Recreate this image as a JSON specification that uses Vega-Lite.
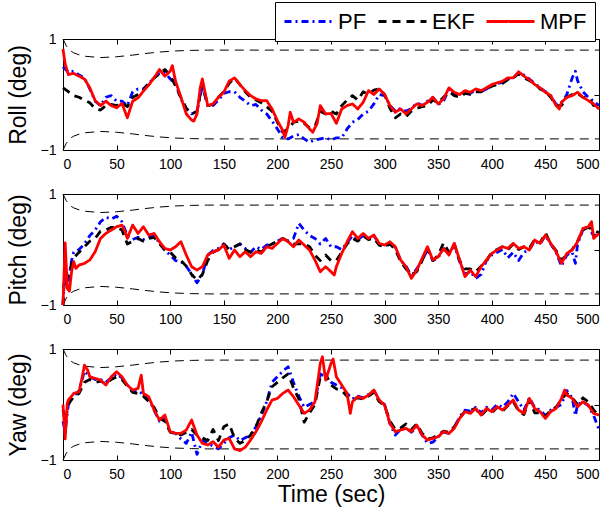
{
"$schema": "https://vega.github.io/schema/vega-lite/v6.json",
"padding": {"left": 6, "top": 1, "right": 5, "bottom": 5},
"spacing": 14,
"datasets": {
"env": [
{"t":0,"hi":1.0,"lo":-1.0},{"t":3,"hi":0.88,"lo":-0.88},{"t":6,"hi":0.8,"lo":-0.8},{"t":10,"hi":0.75,"lo":-0.75},{"t":15,"hi":0.715,"lo":-0.715},{"t":20,"hi":0.69,"lo":-0.69},{"t":35,"hi":0.665,"lo":-0.665},{"t":50,"hi":0.68,"lo":-0.68},{"t":65,"hi":0.71,"lo":-0.71},{"t":75,"hi":0.735,"lo":-0.735},{"t":90,"hi":0.765,"lo":-0.765},{"t":105,"hi":0.785,"lo":-0.785},{"t":120,"hi":0.795,"lo":-0.795},{"t":135,"hi":0.8,"lo":-0.8},{"t":500,"hi":0.8,"lo":-0.8}
],
"roll": [
{"t":0,"PF":0.5,"EKF":0.12,"MPF":0.82},{"t":2,"MPF":0.55},{"t":5,"PF":0.4,"EKF":0.05,"MPF":0.36},{"t":10,"PF":0.42,"EKF":-0.02,"MPF":0.38},{"t":15,"PF":0.35,"EKF":-0.05,"MPF":0.33},{"t":20,"PF":0.3,"EKF":-0.1,"MPF":0.28},{"t":25,"PF":0.1,"EKF":-0.15,"MPF":0.12},{"t":30,"PF":-0.12,"EKF":-0.25,"MPF":-0.11},{"t":35,"PF":-0.2,"EKF":-0.28,"MPF":-0.2},{"t":40,"PF":-0.05,"EKF":-0.2,"MPF":-0.12},{"t":45,"PF":-0.02,"EKF":-0.18,"MPF":-0.2},{"t":50,"PF":-0.12,"EKF":-0.2,"MPF":-0.24},{"t":55,"PF":-0.12,"EKF":-0.15,"MPF":-0.16},{"t":60,"PF":-0.2,"EKF":-0.22,"MPF":-0.42},{"t":65,"PF":0.05,"EKF":-0.05,"MPF":-0.12},{"t":70,"PF":0.1,"EKF":0.0,"MPF":-0.06},{"t":75,"PF":0.1,"EKF":0.08,"MPF":0.06},{"t":80,"PF":0.2,"EKF":0.2,"MPF":0.17},{"t":85,"PF":0.3,"EKF":0.3,"MPF":0.3},{"t":90,"PF":0.38,"EKF":0.38,"MPF":0.45},{"t":95,"PF":0.4,"EKF":0.45,"MPF":0.33},{"t":100,"PF":0.28,"EKF":0.35,"MPF":0.42},{"t":102,"MPF":0.52},{"t":105,"PF":0.2,"EKF":0.15,"MPF":0.24},{"t":110,"PF":-0.08,"EKF":-0.05,"MPF":-0.05},{"t":115,"PF":-0.25,"EKF":-0.25,"MPF":-0.35},{"t":120,"PF":-0.35,"EKF":-0.35,"MPF":-0.46},{"t":122,"MPF":-0.48},{"t":125,"PF":-0.3,"EKF":-0.3,"MPF":-0.35},{"t":128,"MPF":0.12},{"t":130,"PF":0.15,"EKF":0.2,"MPF":0.28},{"t":135,"PF":-0.2,"EKF":-0.2,"MPF":-0.2},{"t":140,"PF":-0.2,"EKF":-0.18,"MPF":-0.17},{"t":145,"PF":-0.1,"EKF":-0.05,"MPF":-0.05},{"t":150,"PF":0.02,"EKF":0.05,"MPF":0.04},{"t":155,"PF":0.05,"EKF":0.2,"MPF":0.24},{"t":160,"PF":0.05,"EKF":0.3,"MPF":0.3},{"t":165,"PF":-0.05,"EKF":0.18,"MPF":0.18},{"t":170,"PF":-0.12,"EKF":0.05,"MPF":0.07},{"t":175,"PF":-0.2,"EKF":-0.05,"MPF":-0.02},{"t":180,"PF":-0.18,"EKF":-0.1,"MPF":-0.08},{"t":185,"PF":-0.28,"EKF":-0.15,"MPF":-0.11},{"t":190,"PF":-0.35,"EKF":-0.22,"MPF":-0.11},{"t":195,"PF":-0.48,"EKF":-0.3,"MPF":-0.26},{"t":200,"PF":-0.62,"EKF":-0.5,"MPF":-0.47},{"t":205,"PF":-0.78,"EKF":-0.68,"MPF":-0.65},{"t":207,"MPF":-0.77},{"t":210,"PF":-0.8,"EKF":-0.62,"MPF":-0.56},{"t":212,"MPF":-0.32},{"t":215,"PF":-0.75,"EKF":-0.5,"MPF":-0.5},{"t":220,"PF":-0.72,"EKF":-0.48,"MPF":-0.44},{"t":225,"PF":-0.8,"EKF":-0.52,"MPF":-0.5},{"t":230,"PF":-0.86,"EKF":-0.6,"MPF":-0.62},{"t":233,"MPF":-0.68},{"t":235,"PF":-0.82,"EKF":-0.58,"MPF":-0.6},{"t":237,"MPF":-0.53},{"t":240,"PF":-0.8,"EKF":-0.3,"MPF":-0.2},{"t":245,"PF":-0.78,"EKF":-0.35,"MPF":-0.35},{"t":250,"PF":-0.82,"EKF":-0.3,"MPF":-0.34},{"t":255,"PF":-0.78,"EKF":-0.35,"MPF":-0.52},{"t":260,"PF":-0.78,"EKF":-0.2,"MPF":-0.26},{"t":265,"PF":-0.62,"EKF":-0.1,"MPF":-0.2},{"t":270,"PF":-0.5,"EKF":-0.02,"MPF":-0.17},{"t":275,"PF":-0.45,"EKF":-0.1,"MPF":-0.26},{"t":280,"PF":-0.35,"EKF":0.05,"MPF":-0.14},{"t":285,"PF":-0.3,"EKF":0.0,"MPF":0.07},{"t":290,"PF":-0.17,"EKF":0.08,"MPF":0.0},{"t":295,"PF":0.0,"EKF":0.1,"MPF":0.1},{"t":300,"PF":-0.02,"EKF":0.0,"MPF":0.0},{"t":305,"PF":-0.2,"EKF":-0.25,"MPF":-0.2},{"t":310,"PF":-0.3,"EKF":-0.42,"MPF":-0.32},{"t":315,"PF":-0.25,"EKF":-0.35,"MPF":-0.26},{"t":320,"PF":-0.3,"EKF":-0.4,"MPF":-0.35},{"t":325,"PF":-0.25,"EKF":-0.3,"MPF":-0.26},{"t":330,"PF":-0.15,"EKF":-0.25,"MPF":-0.17},{"t":335,"PF":-0.2,"EKF":-0.22,"MPF":-0.2},{"t":340,"PF":-0.12,"EKF":-0.2,"MPF":-0.14},{"t":345,"PF":-0.05,"EKF":-0.1,"MPF":-0.05},{"t":350,"PF":-0.18,"EKF":-0.15,"MPF":-0.17},{"t":355,"PF":-0.12,"EKF":-0.05,"MPF":-0.08},{"t":360,"PF":0.1,"EKF":0.05,"MPF":0.12},{"t":365,"PF":0.02,"EKF":-0.02,"MPF":0.04},{"t":370,"PF":0.0,"EKF":-0.05,"MPF":0.0},{"t":375,"PF":0.05,"EKF":0.02,"MPF":0.07},{"t":380,"PF":0.02,"EKF":0.0,"MPF":0.04},{"t":385,"PF":0.08,"EKF":0.05,"MPF":0.1},{"t":390,"PF":0.05,"EKF":0.05,"MPF":0.07},{"t":395,"PF":0.1,"EKF":0.1,"MPF":0.12},{"t":400,"PF":0.16,"EKF":0.15,"MPF":0.18},{"t":405,"PF":0.2,"EKF":0.18,"MPF":0.21},{"t":410,"PF":0.22,"EKF":0.2,"MPF":0.24},{"t":415,"PF":0.28,"EKF":0.27,"MPF":0.3},{"t":420,"PF":0.3,"EKF":0.3,"MPF":0.3},{"t":425,"PF":0.38,"EKF":0.38,"MPF":0.41},{"t":430,"PF":0.35,"EKF":0.3,"MPF":0.33},{"t":435,"PF":0.28,"EKF":0.25,"MPF":0.27},{"t":440,"PF":0.2,"EKF":0.2,"MPF":0.18},{"t":445,"PF":0.12,"EKF":0.1,"MPF":0.12},{"t":450,"PF":0.05,"EKF":0.05,"MPF":0.04},{"t":455,"PF":-0.02,"EKF":-0.05,"MPF":-0.02},{"t":460,"PF":-0.18,"EKF":-0.2,"MPF":-0.2},{"t":463,"MPF":-0.26},{"t":465,"PF":-0.15,"EKF":-0.2,"MPF":-0.14},{"t":470,"PF":0.0,"EKF":-0.05,"MPF":-0.05},{"t":475,"PF":0.3,"EKF":0.0,"MPF":-0.02},{"t":478,"PF":0.42},{"t":480,"PF":0.25,"EKF":0.02,"MPF":0.04},{"t":485,"PF":0.05,"EKF":-0.05,"MPF":-0.05},{"t":490,"PF":-0.05,"EKF":-0.05,"MPF":-0.11},{"t":495,"PF":-0.12,"EKF":-0.2,"MPF":-0.17},{"t":500,"PF":-0.2,"EKF":-0.2,"MPF":-0.26}
],
"pitch": [
{"t":0,"PF":-1.0,"EKF":-1.0,"MPF":-1.0},{"t":2,"PF":-0.3,"EKF":-0.2,"MPF":0.12},{"t":4,"PF":-0.7,"EKF":-0.5,"MPF":-0.7},{"t":6,"MPF":-0.75},{"t":8,"PF":-0.2,"MPF":-0.4},{"t":10,"PF":-0.05,"EKF":-0.15,"MPF":-0.22},{"t":12,"MPF":-0.34},{"t":15,"PF":0.0,"EKF":-0.05,"MPF":-0.28},{"t":20,"PF":0.1,"EKF":0.05,"MPF":-0.25},{"t":25,"PF":0.25,"EKF":0.15,"MPF":-0.19},{"t":30,"PF":0.35,"EKF":0.2,"MPF":-0.04},{"t":35,"PF":0.5,"EKF":0.33,"MPF":0.2},{"t":40,"PF":0.58,"EKF":0.35,"MPF":0.29},{"t":45,"PF":0.55,"EKF":0.4,"MPF":0.35},{"t":50,"PF":0.6,"EKF":0.4,"MPF":0.41},{"t":55,"PF":0.5,"EKF":0.35,"MPF":0.44},{"t":58,"MPF":0.32},{"t":60,"PF":0.25,"EKF":0.1,"MPF":0.2},{"t":65,"PF":0.18,"EKF":0.15,"MPF":0.44},{"t":70,"PF":0.22,"EKF":0.2,"MPF":0.29},{"t":75,"PF":0.18,"EKF":0.15,"MPF":0.41},{"t":80,"PF":0.22,"EKF":0.2,"MPF":0.26},{"t":85,"PF":0.25,"EKF":0.22,"MPF":0.29},{"t":90,"PF":0.12,"EKF":0.1,"MPF":0.14},{"t":95,"PF":-0.02,"EKF":0.0,"MPF":0.02},{"t":100,"PF":-0.1,"EKF":-0.05,"MPF":-0.01},{"t":105,"PF":-0.2,"EKF":-0.15,"MPF":0.05},{"t":110,"PF":-0.22,"EKF":-0.2,"MPF":0.14},{"t":115,"PF":-0.3,"EKF":-0.3,"MPF":-0.1},{"t":120,"PF":-0.45,"EKF":-0.45,"MPF":-0.31},{"t":125,"PF":-0.6,"EKF":-0.55,"MPF":-0.37},{"t":130,"PF":-0.45,"EKF":-0.45,"MPF":-0.31},{"t":135,"PF":-0.1,"EKF":-0.2,"MPF":-0.1},{"t":140,"PF":-0.02,"EKF":-0.05,"MPF":-0.04},{"t":145,"PF":0.02,"EKF":0.0,"MPF":-0.01},{"t":150,"PF":0.1,"EKF":0.1,"MPF":0.08},{"t":155,"PF":0.0,"EKF":0.0,"MPF":-0.16},{"t":160,"PF":0.05,"EKF":0.05,"MPF":-0.01},{"t":165,"PF":0.1,"EKF":0.1,"MPF":-0.13},{"t":170,"PF":0.02,"EKF":0.0,"MPF":-0.04},{"t":175,"PF":-0.05,"EKF":-0.05,"MPF":-0.13},{"t":180,"PF":0.05,"EKF":0.0,"MPF":-0.04},{"t":185,"PF":0.0,"EKF":-0.05,"MPF":-0.07},{"t":190,"PF":0.08,"EKF":0.05,"MPF":0.05},{"t":195,"PF":0.1,"EKF":0.1,"MPF":0.02},{"t":200,"PF":0.15,"EKF":0.15,"MPF":0.11},{"t":205,"PF":0.2,"EKF":0.2,"MPF":0.2},{"t":210,"PF":0.15,"EKF":0.15,"MPF":0.14},{"t":215,"PF":0.2,"EKF":0.1,"MPF":0.05},{"t":220,"PF":0.47,"EKF":0.1,"MPF":0.17},{"t":225,"PF":0.35,"EKF":0.1,"MPF":0.08},{"t":230,"PF":0.25,"EKF":0.05,"MPF":-0.01},{"t":235,"PF":0.2,"EKF":-0.1,"MPF":-0.19},{"t":240,"PF":0.1,"EKF":-0.2,"MPF":-0.4},{"t":245,"PF":0.2,"EKF":-0.1,"MPF":-0.31},{"t":250,"PF":0.05,"EKF":-0.2,"MPF":-0.4},{"t":253,"MPF":-0.46},{"t":255,"PF":0.05,"EKF":-0.2,"MPF":-0.31},{"t":260,"PF":0.0,"EKF":-0.05,"MPF":-0.07},{"t":265,"PF":0.12,"EKF":0.1,"MPF":0.14},{"t":270,"PF":0.25,"EKF":0.2,"MPF":0.32},{"t":275,"PF":0.18,"EKF":0.15,"MPF":0.2},{"t":280,"PF":0.25,"EKF":0.25,"MPF":0.29},{"t":285,"PF":0.2,"EKF":0.18,"MPF":0.2},{"t":290,"PF":0.25,"EKF":0.2,"MPF":0.26},{"t":295,"PF":0.1,"EKF":0.08,"MPF":0.11},{"t":300,"PF":0.05,"EKF":0.05,"MPF":0.08},{"t":305,"PF":0.12,"EKF":0.1,"MPF":0.14},{"t":310,"PF":0.03,"EKF":0.0,"MPF":0.05},{"t":315,"PF":-0.2,"EKF":-0.22,"MPF":-0.19},{"t":320,"PF":-0.3,"EKF":-0.35,"MPF":-0.31},{"t":325,"PF":-0.48,"EKF":-0.45,"MPF":-0.52},{"t":330,"PF":-0.35,"EKF":-0.4,"MPF":-0.37},{"t":335,"PF":-0.2,"EKF":-0.2,"MPF":-0.16},{"t":340,"PF":0.0,"EKF":0.02,"MPF":0.05},{"t":345,"PF":-0.2,"EKF":-0.2,"MPF":-0.19},{"t":350,"PF":-0.15,"EKF":-0.1,"MPF":-0.13},{"t":355,"PF":0.02,"EKF":0.12,"MPF":0.02},{"t":360,"PF":-0.08,"EKF":-0.05,"MPF":-0.1},{"t":365,"PF":0.08,"EKF":0.1,"MPF":0.11},{"t":370,"PF":-0.22,"EKF":-0.2,"MPF":-0.19},{"t":375,"PF":-0.45,"EKF":-0.35,"MPF":-0.49},{"t":380,"PF":-0.4,"EKF":-0.35,"MPF":-0.37},{"t":385,"PF":-0.52,"EKF":-0.4,"MPF":-0.49},{"t":390,"PF":-0.45,"EKF":-0.3,"MPF":-0.31},{"t":395,"PF":-0.2,"EKF":-0.2,"MPF":-0.19},{"t":400,"PF":-0.1,"EKF":-0.05,"MPF":-0.07},{"t":405,"PF":-0.05,"EKF":0.0,"MPF":-0.01},{"t":410,"PF":0.0,"EKF":0.05,"MPF":0.05},{"t":415,"PF":-0.15,"EKF":0.0,"MPF":0.02},{"t":420,"PF":-0.05,"EKF":0.1,"MPF":0.11},{"t":425,"PF":-0.2,"EKF":0.0,"MPF":0.02},{"t":430,"PF":-0.05,"EKF":0.05,"MPF":0.05},{"t":435,"PF":0.0,"EKF":0.02,"MPF":-0.01},{"t":440,"PF":0.15,"EKF":0.18,"MPF":0.17},{"t":445,"PF":0.1,"EKF":0.12,"MPF":0.11},{"t":450,"PF":0.25,"EKF":0.3,"MPF":0.26},{"t":455,"PF":0.1,"EKF":0.1,"MPF":0.11},{"t":460,"PF":-0.05,"EKF":-0.02,"MPF":-0.04},{"t":465,"PF":-0.3,"EKF":-0.2,"MPF":-0.25},{"t":470,"PF":-0.1,"EKF":-0.08,"MPF":-0.07},{"t":475,"PF":-0.05,"EKF":0.0,"MPF":-0.01},{"t":478,"PF":-0.25},{"t":480,"PF":0.1,"EKF":0.15,"MPF":0.14},{"t":485,"PF":0.35,"EKF":0.35,"MPF":0.38},{"t":490,"PF":0.4,"EKF":0.4,"MPF":0.41},{"t":493,"MPF":0.5},{"t":495,"PF":0.25,"EKF":0.35,"MPF":0.2},{"t":500,"PF":0.3,"EKF":0.3,"MPF":0.29}
],
"yaw": [
{"t":0,"PF":-0.3,"EKF":-0.1,"MPF":0.0},{"t":2,"PF":-0.5,"EKF":-0.3,"MPF":-0.62},{"t":4,"MPF":0.02},{"t":5,"PF":0.0,"EKF":0.0,"MPF":0.08},{"t":10,"PF":0.15,"EKF":0.15,"MPF":0.2},{"t":15,"PF":0.25,"EKF":0.2,"MPF":0.23},{"t":18,"MPF":0.5},{"t":20,"PF":0.6,"EKF":0.4,"MPF":0.71},{"t":23,"MPF":0.62},{"t":25,"PF":0.5,"EKF":0.45,"MPF":0.5},{"t":30,"PF":0.45,"EKF":0.4,"MPF":0.47},{"t":35,"PF":0.45,"EKF":0.42,"MPF":0.44},{"t":40,"PF":0.4,"EKF":0.38,"MPF":0.35},{"t":45,"PF":0.48,"EKF":0.45,"MPF":0.5},{"t":50,"PF":0.55,"EKF":0.5,"MPF":0.59},{"t":55,"PF":0.48,"EKF":0.45,"MPF":0.5},{"t":60,"PF":0.35,"EKF":0.33,"MPF":0.35},{"t":65,"PF":0.25,"EKF":0.22,"MPF":0.26},{"t":70,"PF":0.25,"EKF":0.2,"MPF":0.29},{"t":73,"MPF":0.53},{"t":75,"PF":0.18,"EKF":0.15,"MPF":0.2},{"t":80,"PF":0.1,"EKF":0.05,"MPF":0.14},{"t":85,"PF":-0.1,"EKF":-0.05,"MPF":-0.1},{"t":90,"PF":-0.3,"EKF":-0.25,"MPF":-0.28},{"t":95,"PF":-0.25,"EKF":-0.3,"MPF":-0.19},{"t":100,"PF":-0.5,"EKF":-0.5,"MPF":-0.49},{"t":105,"PF":-0.52,"EKF":-0.52,"MPF":-0.52},{"t":110,"PF":-0.62,"EKF":-0.55,"MPF":-0.52},{"t":115,"PF":-0.7,"EKF":-0.5,"MPF":-0.46},{"t":120,"PF":-0.5,"EKF":-0.45,"MPF":-0.28},{"t":125,"PF":-0.9,"EKF":-0.55,"MPF":-0.55},{"t":130,"PF":-0.65,"EKF":-0.6,"MPF":-0.7},{"t":135,"PF":-0.7,"EKF":-0.65,"MPF":-0.73},{"t":140,"PF":-0.75,"EKF":-0.45,"MPF":-0.67},{"t":145,"PF":-0.8,"EKF":-0.65,"MPF":-0.77},{"t":150,"PF":-0.7,"EKF":-0.4,"MPF":-0.64},{"t":155,"PF":-0.6,"EKF":-0.35,"MPF":-0.61},{"t":160,"PF":-0.55,"EKF":-0.6,"MPF":-0.8},{"t":165,"PF":-0.65,"EKF":-0.7,"MPF":-0.83},{"t":170,"PF":-0.6,"EKF":-0.65,"MPF":-0.77},{"t":175,"PF":-0.55,"EKF":-0.55,"MPF":-0.64},{"t":180,"PF":-0.4,"EKF":-0.4,"MPF":-0.49},{"t":185,"PF":-0.2,"EKF":-0.15,"MPF":-0.31},{"t":190,"PF":0.05,"EKF":0.05,"MPF":-0.1},{"t":195,"PF":0.4,"EKF":0.32,"MPF":0.08},{"t":200,"PF":0.5,"EKF":0.4,"MPF":0.11},{"t":205,"PF":0.6,"EKF":0.48,"MPF":0.2},{"t":210,"PF":0.68,"EKF":0.55,"MPF":0.26},{"t":215,"PF":0.4,"EKF":0.3,"MPF":0.14},{"t":220,"PF":0.15,"EKF":0.1,"MPF":-0.01},{"t":225,"PF":-0.05,"EKF":-0.32,"MPF":-0.16},{"t":230,"PF":0.0,"EKF":-0.15,"MPF":-0.1},{"t":235,"PF":0.05,"EKF":0.0,"MPF":0.05},{"t":240,"PF":0.55,"EKF":0.5,"MPF":0.74},{"t":242,"MPF":0.86},{"t":245,"PF":0.5,"EKF":0.55,"MPF":0.44},{"t":250,"PF":0.4,"EKF":0.35,"MPF":0.74},{"t":252,"MPF":0.82},{"t":255,"PF":0.35,"EKF":0.28,"MPF":0.5},{"t":260,"PF":0.3,"EKF":0.25,"MPF":0.35},{"t":265,"PF":0.2,"EKF":0.15,"MPF":0.2},{"t":268,"MPF":-0.16},{"t":270,"PF":0.1,"EKF":0.1,"MPF":0.05},{"t":275,"PF":0.15,"EKF":0.12,"MPF":0.14},{"t":280,"PF":0.12,"EKF":0.1,"MPF":0.11},{"t":285,"PF":0.18,"EKF":0.15,"MPF":0.17},{"t":290,"PF":0.25,"EKF":0.22,"MPF":0.26},{"t":295,"PF":0.08,"EKF":0.05,"MPF":0.08},{"t":300,"PF":0.0,"EKF":-0.02,"MPF":-0.01},{"t":305,"PF":-0.35,"EKF":-0.3,"MPF":-0.34},{"t":310,"PF":-0.55,"EKF":-0.45,"MPF":-0.49},{"t":315,"PF":-0.45,"EKF":-0.42,"MPF":-0.46},{"t":320,"PF":-0.42,"EKF":-0.35,"MPF":-0.43},{"t":325,"PF":-0.5,"EKF":-0.45,"MPF":-0.49},{"t":330,"PF":-0.4,"EKF":-0.35,"MPF":-0.37},{"t":335,"PF":-0.55,"EKF":-0.52,"MPF":-0.55},{"t":340,"PF":-0.7,"EKF":-0.62,"MPF":-0.64},{"t":345,"PF":-0.68,"EKF":-0.6,"MPF":-0.61},{"t":350,"PF":-0.58,"EKF":-0.55,"MPF":-0.58},{"t":355,"PF":-0.5,"EKF":-0.48,"MPF":-0.49},{"t":360,"PF":-0.52,"EKF":-0.5,"MPF":-0.52},{"t":365,"PF":-0.42,"EKF":-0.4,"MPF":-0.43},{"t":370,"PF":-0.22,"EKF":-0.25,"MPF":-0.25},{"t":375,"PF":-0.1,"EKF":-0.12,"MPF":-0.13},{"t":380,"PF":-0.12,"EKF":-0.1,"MPF":-0.16},{"t":385,"PF":-0.05,"EKF":-0.08,"MPF":-0.07},{"t":390,"PF":-0.15,"EKF":-0.2,"MPF":-0.19},{"t":395,"PF":-0.05,"EKF":-0.1,"MPF":-0.07},{"t":400,"PF":-0.1,"EKF":-0.15,"MPF":-0.13},{"t":405,"PF":0.0,"EKF":-0.05,"MPF":-0.04},{"t":410,"PF":-0.05,"EKF":-0.12,"MPF":-0.1},{"t":415,"PF":0.05,"EKF":-0.02,"MPF":-0.01},{"t":420,"PF":0.2,"EKF":0.05,"MPF":0.08},{"t":425,"PF":0.05,"EKF":-0.12,"MPF":-0.1},{"t":430,"PF":-0.1,"EKF":-0.18,"MPF":-0.16},{"t":435,"PF":0.12,"EKF":0.08,"MPF":0.11},{"t":440,"PF":-0.05,"EKF":-0.15,"MPF":-0.07},{"t":445,"PF":-0.1,"EKF":-0.15,"MPF":-0.13},{"t":450,"PF":-0.2,"EKF":-0.22,"MPF":-0.25},{"t":455,"PF":-0.1,"EKF":-0.1,"MPF":-0.13},{"t":460,"PF":-0.05,"EKF":-0.05,"MPF":-0.07},{"t":465,"PF":0.0,"EKF":0.1,"MPF":0.11},{"t":468,"MPF":0.26},{"t":470,"PF":0.25,"EKF":0.2,"MPF":0.17},{"t":475,"PF":0.12,"EKF":0.12,"MPF":0.11},{"t":478,"PF":-0.2},{"t":480,"PF":0.0,"EKF":0.0,"MPF":-0.04},{"t":485,"PF":0.05,"EKF":0.12,"MPF":0.05},{"t":490,"PF":-0.02,"EKF":0.05,"MPF":-0.01},{"t":495,"PF":-0.2,"EKF":-0.1,"MPF":-0.16},{"t":500,"PF":-0.45,"EKF":-0.2,"MPF":-0.19}
]
},
"vconcat": [
{
"width": 536, "height": 111,
"layer": [
{"data": {"name": "env"}, "mark": {"type": "line", "color": "black", "strokeWidth": 1, "strokeDash": [9, 6]},
 "encoding": {
  "x": {"field": "t", "type": "quantitative", "scale": {"domain": [0, 500], "nice": false}, "axis": {"values": [0,50,100,150,200,250,300,350,400,450,500], "title": null}},
  "y": {"field": "hi", "type": "quantitative", "scale": {"domain": [-1, 1], "nice": false}, "axis": {"values": [-1,0,1], "format": "d", "title": "Roll (deg)"}}}},
{"data": {"name": "env"}, "mark": {"type": "line", "color": "black", "strokeWidth": 1, "strokeDash": [9, 6]},
 "encoding": {"x": {"field": "t", "type": "quantitative", "axis": null}, "y": {"field": "lo", "type": "quantitative", "axis": null}}},
{"data": {"name": "roll"}, "transform": [{"fold": ["PF", "EKF", "MPF"], "as": ["s", "v"]}, {"filter": "isValid(datum.v)"}],
 "mark": {"type": "line", "strokeJoin": "round"},
 "encoding": {
  "x": {"field": "t", "type": "quantitative", "axis": null},
  "y": {"field": "v", "type": "quantitative", "axis": null},
  "color": {"field": "s", "type": "nominal", "scale": {"domain": ["PF", "EKF", "MPF"], "range": ["#0000ff", "#000000", "#ff0000"]}, "legend": {"orient": "none", "legendX": 212, "legendY": -37, "direction": "horizontal", "title": null}},
  "strokeDash": {"field": "s", "type": "nominal", "scale": {"domain": ["PF", "EKF", "MPF"], "range": [[7, 4, 2, 4], [8, 6], [1, 0]]}, "legend": {"orient": "none", "legendX": 212, "legendY": -37, "direction": "horizontal", "title": null}}}},
{"data": {"name": "env"}, "mark": {"type": "line", "opacity": 0},
 "encoding": {
  "x": {"field": "t", "type": "quantitative", "axis": {"orient": "top", "labels": false, "title": null, "values": [0,50,100,150,200,250,300,350,400,450,500]}},
  "y": {"field": "hi", "type": "quantitative", "axis": {"orient": "right", "labels": false, "title": null, "values": [-1,0,1]}}}}
],
"resolve": {"axis": {"x": "independent", "y": "independent"}}
},
{
"width": 536, "height": 111,
"layer": [
{"data": {"name": "env"}, "mark": {"type": "line", "color": "black", "strokeWidth": 1, "strokeDash": [9, 6]},
 "encoding": {
  "x": {"field": "t", "type": "quantitative", "scale": {"domain": [0, 500], "nice": false}, "axis": {"values": [0,50,100,150,200,250,300,350,400,450,500], "title": null}},
  "y": {"field": "hi", "type": "quantitative", "scale": {"domain": [-1, 1], "nice": false}, "axis": {"values": [-1,0,1], "format": "d", "title": "Pitch (deg)"}}}},
{"data": {"name": "env"}, "mark": {"type": "line", "color": "black", "strokeWidth": 1, "strokeDash": [9, 6]},
 "encoding": {"x": {"field": "t", "type": "quantitative", "axis": null}, "y": {"field": "lo", "type": "quantitative", "axis": null}}},
{"data": {"name": "pitch"}, "transform": [{"fold": ["PF", "EKF", "MPF"], "as": ["s", "v"]}, {"filter": "isValid(datum.v)"}],
 "mark": {"type": "line", "strokeJoin": "round"},
 "encoding": {
  "x": {"field": "t", "type": "quantitative", "axis": null},
  "y": {"field": "v", "type": "quantitative", "axis": null},
  "color": {"field": "s", "type": "nominal", "scale": {"domain": ["PF", "EKF", "MPF"], "range": ["#0000ff", "#000000", "#ff0000"]}},
  "strokeDash": {"field": "s", "type": "nominal", "scale": {"domain": ["PF", "EKF", "MPF"], "range": [[7, 4, 2, 4], [8, 6], [1, 0]]}}}},
{"data": {"name": "env"}, "mark": {"type": "line", "opacity": 0},
 "encoding": {
  "x": {"field": "t", "type": "quantitative", "axis": {"orient": "top", "labels": false, "title": null, "values": [0,50,100,150,200,250,300,350,400,450,500]}},
  "y": {"field": "hi", "type": "quantitative", "axis": {"orient": "right", "labels": false, "title": null, "values": [-1,0,1]}}}}
],
"resolve": {"axis": {"x": "independent", "y": "independent"}}
},
{
"width": 536, "height": 111,
"layer": [
{"data": {"name": "env"}, "mark": {"type": "line", "color": "black", "strokeWidth": 1, "strokeDash": [9, 6]},
 "encoding": {
  "x": {"field": "t", "type": "quantitative", "scale": {"domain": [0, 500], "nice": false}, "axis": {"values": [0,50,100,150,200,250,300,350,400,450,500], "title": "Time (sec)"}},
  "y": {"field": "hi", "type": "quantitative", "scale": {"domain": [-1, 1], "nice": false}, "axis": {"values": [-1,0,1], "format": "d", "title": "Yaw (deg)"}}}},
{"data": {"name": "env"}, "mark": {"type": "line", "color": "black", "strokeWidth": 1, "strokeDash": [9, 6]},
 "encoding": {"x": {"field": "t", "type": "quantitative", "axis": null}, "y": {"field": "lo", "type": "quantitative", "axis": null}}},
{"data": {"name": "yaw"}, "transform": [{"fold": ["PF", "EKF", "MPF"], "as": ["s", "v"]}, {"filter": "isValid(datum.v)"}],
 "mark": {"type": "line", "strokeJoin": "round"},
 "encoding": {
  "x": {"field": "t", "type": "quantitative", "axis": null},
  "y": {"field": "v", "type": "quantitative", "axis": null},
  "color": {"field": "s", "type": "nominal", "scale": {"domain": ["PF", "EKF", "MPF"], "range": ["#0000ff", "#000000", "#ff0000"]}},
  "strokeDash": {"field": "s", "type": "nominal", "scale": {"domain": ["PF", "EKF", "MPF"], "range": [[7, 4, 2, 4], [8, 6], [1, 0]]}}}},
{"data": {"name": "env"}, "mark": {"type": "line", "opacity": 0},
 "encoding": {
  "x": {"field": "t", "type": "quantitative", "axis": {"orient": "top", "labels": false, "title": null, "values": [0,50,100,150,200,250,300,350,400,450,500]}},
  "y": {"field": "hi", "type": "quantitative", "axis": {"orient": "right", "labels": false, "title": null, "values": [-1,0,1]}}}}
],
"resolve": {"axis": {"x": "independent", "y": "independent"}}
}
],
"config": {
 "font": "Liberation Sans",
 "view": {"stroke": "#000000", "strokeWidth": 1},
 "line": {"strokeWidth": 2.8},
 "axis": {"grid": false, "domain": false, "offset": -5, "tickColor": "#000000", "tickSize": 5, "tickWidth": 1, "labelFontSize": 14, "labelColor": "#000000", "labelFont": "Liberation Sans", "labelPadding": 7, "titleFontSize": 23, "titleFontWeight": "normal", "titleColor": "#000000", "titleFont": "Liberation Sans", "titlePadding": 10},
 "axisX": {"titlePadding": 2},
 "legend": {"labelFontSize": 22, "labelFont": "Liberation Sans", "labelColor": "#000000", "symbolType": "M-1,0H3.8", "symbolSize": 400, "symbolStrokeWidth": 3, "strokeColor": "#000000", "fillColor": "#ffffff", "padding": 8, "columnPadding": 5, "labelOffset": 32, "gridAlign": "none"}
}
}
